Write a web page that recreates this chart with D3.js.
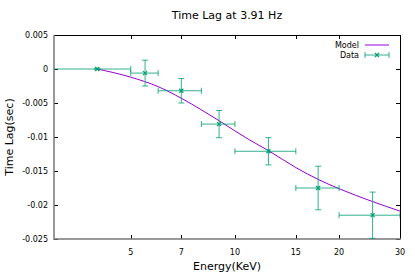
<!DOCTYPE html>
<html><head><meta charset="utf-8">
<script src="https://cdn.jsdelivr.net/npm/d3@7"></script>
<style>body{margin:0;background:#fff}svg{display:block}text{font-family:"DejaVu Sans",sans-serif}</style>
</head><body><svg id="c" width="415" height="273"></svg>
<script>
const title = "Time Lag at 3.91 Hz";
const xTicks = [5, 7, 10, 15, 20, 30];
const yTicks = [0.005, 0, -0.005, -0.01, -0.015, -0.02, -0.025];
const yTickLabels = ["0.005", "0", "-0.005", "-0.01", "-0.015", "-0.02", "-0.025"];
// Data points
const dataE = [4.0, 5.5, 7.0, 9.0, 12.5, 17.4, 25.0];
const dataElo = [2.0, 5.0, 6.0, 8.0, 10.0, 15.0, 20.0];
const dataEhi = [5.0, 6.0, 8.0, 10.0, 15.0, 20.0, 30.0];
const dataLag = [0.0, -0.0006, -0.0032, -0.0081, -0.0121, -0.0175, -0.0215];
const dataErr = [0.0001, 0.0019, 0.0018, 0.002, 0.002, 0.0032, 0.0034];
// Model curve
const modelE = [4, 5, 6, 7, 8, 9, 10, 11, 12.5, 15, 17.5, 20, 25, 30];
const modelLag = [0, -0.0012, -0.0026, -0.0043, -0.0060, -0.0076, -0.0091, -0.0104, -0.0120, -0.0145, -0.0163, -0.0176, -0.0195, -0.0209];

const svg = d3.select("#c");
const L = 54, R = 400, T = 35, B = 239;
const x = d3.scaleLog().domain([3, 30]).range([L, R]);
const y = d3.scaleLinear().domain([-0.025, 0.005]).range([B, T]);
const green = "#009e73", purple = "#9400d3";

svg.append("defs").append("clipPath").attr("id","clip").append("rect")
  .attr("x", L).attr("y", T).attr("width", R-L).attr("height", B-T);

// ticks (inward)
const tk = svg.append("g").attr("stroke","#000").attr("stroke-width",1);
xTicks.forEach(v => {
  const px = Math.round(x(v)) + 0.5;
  tk.append("line").attr("x1",px).attr("x2",px).attr("y1",B).attr("y2",B-4);
  tk.append("line").attr("x1",px).attr("x2",px).attr("y1",T).attr("y2",T+4);
});
yTicks.forEach(v => {
  const py = Math.round(y(v)) + 0.5;
  tk.append("line").attr("x1",L).attr("x2",L+4).attr("y1",py).attr("y2",py);
  tk.append("line").attr("x1",R).attr("x2",R-4).attr("y1",py).attr("y2",py);
});
// tick labels
xTicks.forEach(v => {
  svg.append("text").attr("x", x(v)).attr("y", 255).attr("text-anchor","middle")
    .attr("font-size", 8).text(v);
});
yTicks.forEach((v,i) => {
  svg.append("text").attr("x", 48).attr("y", y(v)+3).attr("text-anchor","end")
    .attr("font-size", 8).text(yTickLabels[i]);
});

// border
svg.append("line").attr("x1",L).attr("x2",R).attr("y1",T+0.5).attr("y2",T+0.5).attr("stroke","#000");
svg.append("line").attr("x1",R+0.5).attr("x2",R+0.5).attr("y1",T).attr("y2",B).attr("stroke","#000");
svg.append("line").attr("x1",L).attr("x2",L).attr("y1",T).attr("y2",B+1).attr("stroke","#777").attr("stroke-width",1.5);
svg.append("line").attr("x1",L).attr("x2",R+1).attr("y1",B).attr("y2",B).attr("stroke","#777").attr("stroke-width",1.5);

const plot = svg.append("g").attr("clip-path","url(#clip)");
// model
const line = d3.line().x((d,i)=>x(modelE[i])).y((d,i)=>y(modelLag[i])).curve(d3.curveMonotoneX);
plot.append("path").datum(modelE).attr("d", line).attr("fill","none").attr("stroke",purple).attr("stroke-width",1);

// data error bars
const cap = 3;
dataE.forEach((e,i) => {
  const g = plot.append("g").attr("stroke",green).attr("stroke-width",1).attr("fill","none");
  const cx = x(e), cy = y(dataLag[i]);
  const xl = x(dataElo[i]), xh = x(dataEhi[i]);
  const yt = y(dataLag[i]+dataErr[i]), yb = y(dataLag[i]-dataErr[i]);
  g.append("line").attr("x1",xl).attr("x2",xh).attr("y1",cy).attr("y2",cy).attr("opacity",0.8);
  g.append("line").attr("x1",xl).attr("x2",xl).attr("y1",cy-cap).attr("y2",cy+cap).attr("opacity",0.8);
  g.append("line").attr("x1",xh).attr("x2",xh).attr("y1",cy-cap).attr("y2",cy+cap).attr("opacity",0.8);
  g.append("line").attr("x1",cx).attr("x2",cx).attr("y1",yt).attr("y2",yb).attr("opacity",0.8);
  g.append("line").attr("x1",cx-cap).attr("x2",cx+cap).attr("y1",yt).attr("y2",yt).attr("opacity",0.8);
  g.append("line").attr("x1",cx-cap).attr("x2",cx+cap).attr("y1",yb).attr("y2",yb).attr("opacity",0.8);
  g.append("path").attr("d",`M${cx-2},${cy-2}L${cx+2},${cy+2}M${cx-2},${cy+2}L${cx+2},${cy-2}`).attr("stroke-width",1.2);
});

// legend
svg.append("text").attr("x",359).attr("y",48).attr("text-anchor","end").attr("font-size",8).text("Model");
svg.append("line").attr("x1",365).attr("x2",389).attr("y1",45).attr("y2",45).attr("stroke",purple);
svg.append("text").attr("x",359).attr("y",58).attr("text-anchor","end").attr("font-size",8).text("Data");
const lg = svg.append("g").attr("stroke",green).attr("fill","none");
lg.append("line").attr("x1",365).attr("x2",389).attr("y1",55).attr("y2",55).attr("opacity",0.8);
lg.append("line").attr("x1",365).attr("x2",365).attr("y1",52).attr("y2",58).attr("opacity",0.8);
lg.append("line").attr("x1",389).attr("x2",389).attr("y1",52).attr("y2",58).attr("opacity",0.8);
lg.append("path").attr("d","M375,53L379,57M375,57L379,53").attr("stroke-width",1.2);

// title & axis labels
svg.append("text").attr("x",227).attr("y",19).attr("text-anchor","middle").attr("font-size",11).text(title);
svg.append("text").attr("x",227).attr("y",270).attr("text-anchor","middle").attr("font-size",11).text("Energy(KeV)");
svg.append("text").attr("transform","translate(13,137) rotate(-90)").attr("text-anchor","middle").attr("font-size",11).text("Time Lag(sec)");
</script></body></html>
